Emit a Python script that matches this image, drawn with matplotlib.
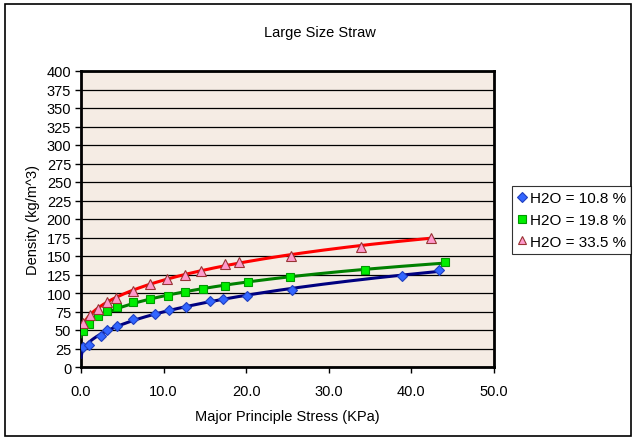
import numpy as np
import matplotlib
matplotlib.use("Agg")
import matplotlib.pyplot as plt
from matplotlib.patches import Rectangle

plt.rcParams['font.family'] = ['Liberation Sans', 'DejaVu Sans']

title = "Large Size Straw"
xlabel = "Major Principle Stress (KPa)"
ylabel = "Density (kg/m^3)"

x_108 = [0.28, 0.97, 2.4, 3.2, 4.4, 6.3, 8.9, 10.6, 12.7, 15.65, 17.2, 20.1, 25.6, 38.9, 43.3]
y_108 = [26.6, 29.7, 41.9, 50.4, 55.8, 64.9, 72.0, 77.4, 81.5, 88.8, 91.9, 95.5, 104.0, 123.4, 131.0]

x_198 = [0.28, 1.0, 2.0, 3.1, 4.3, 6.3, 8.4, 10.5, 12.6, 14.8, 17.4, 20.2, 25.3, 34.4, 44.1]
y_198 = [49.0, 58.0, 69.0, 76.0, 80.6, 87.4, 91.4, 96.0, 101.0, 105.4, 110.0, 114.4, 121.0, 131.5, 142.0]

x_335 = [0.28, 1.1, 2.1, 3.1, 4.2, 6.3, 8.35, 10.4, 12.6, 14.5, 17.4, 19.1, 25.4, 33.9, 42.4]
y_335 = [59.0, 70.0, 79.0, 87.4, 93.0, 103.0, 112.0, 119.0, 124.7, 129.7, 139.6, 142.3, 149.6, 162.6, 175.0]

labels = ["H2O = 10.8 %", "H2O = 19.8 %", "H2O = 33.5 %"]
xticks = [0.0, 10.0, 20.0, 30.0, 40.0, 50.0]
yticks = list(range(0, 401, 25))

FS = 10.5

fig = plt.figure(figsize=(6.34, 4.39), dpi=100)
fig.patch.set_facecolor('white')
fig.patches.append(Rectangle((5/634, 1-437/439), 626/634, 432/439, transform=fig.transFigure,
                             fill=False, edgecolor='black', linewidth=1.2))

ax = fig.add_axes([81/634, 1-368/439, 413/634, 296/439])
ax.set_facecolor('#f5ece4')

def trend(xs, ys):
    xs = np.asarray(xs); ys = np.asarray(ys)
    A = np.column_stack([np.ones_like(xs), np.sqrt(xs), xs])
    coef, *_ = np.linalg.lstsq(A, ys, rcond=None)
    xx = np.linspace(0, xs.max(), 300)
    return xx, coef[0] + coef[1]*np.sqrt(xx) + coef[2]*xx

series = [
    (x_108, y_108, '#000080', 'D', '#3366ff', '#1f3fbf', 5.5),
    (x_198, y_198, '#008000', 's', '#00ee00', '#009900', 5.5),
    (x_335, y_335, '#ff0000', '^', '#ff99cc', '#993333', 6.5),
]
handles = []
for (xs, ys, lc, mk, fc, ec, ms), lab in zip(series, labels):
    xx, yy = trend(xs, ys)
    ax.plot(xx, yy, color=lc, linewidth=2.2, zorder=3)
    h, = ax.plot(xs, ys, linestyle='none', marker=mk, markersize=ms,
                 markerfacecolor=fc, markeredgecolor=ec, markeredgewidth=0.8,
                 zorder=4, label=lab)
    handles.append(h)

ax.set_xlim(0, 50)
ax.set_ylim(0, 400)
ax.set_xticks(xticks)
ax.set_xticklabels([f"{t:.1f}" for t in xticks])
ax.set_yticks(yticks)
ax.yaxis.grid(True, color='black', linewidth=0.9)
ax.set_axisbelow(True)
for s in ax.spines.values():
    s.set_linewidth(2)
    s.set_color('black')
ax.tick_params(axis='both', direction='out', length=4, width=1, labelsize=FS, colors='black')
ax.tick_params(axis='x', pad=8)
ax.tick_params(axis='y', pad=3)
ax.set_xlabel(xlabel, fontsize=FS, labelpad=8)
ax.set_ylabel(ylabel, fontsize=FS, labelpad=5)

fig.text(320/634, 1-33/439, title, ha='center', va='center', fontsize=FS)

leg = fig.legend(handles=handles, labels=labels, loc='upper left',
                 bbox_to_anchor=(512/634, 1-187/439), fontsize=11,
                 frameon=True, fancybox=False, edgecolor='black',
                 handlelength=0.55, handletextpad=0.25, borderpad=0.35,
                 labelspacing=0.5, borderaxespad=0)
leg.get_frame().set_linewidth(0.8)
for h in leg.legend_handles:
    h.set_markersize(5.5)

fig.savefig('out.png', dpi=100)
